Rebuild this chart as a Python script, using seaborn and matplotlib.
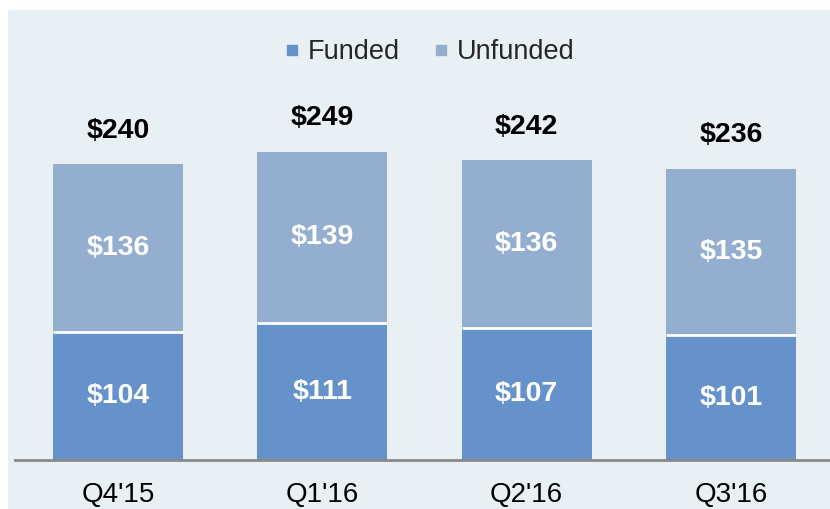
import matplotlib
matplotlib.use("Agg")
import matplotlib.pyplot as plt
import seaborn as sns
import pandas as pd
from matplotlib.lines import Line2D
from matplotlib.patches import Rectangle

quarters = ["Q4'15", "Q1'16", "Q2'16", "Q3'16"]
funded = [104, 111, 107, 101]
unfunded = [136, 139, 136, 135]
totals = [240, 249, 242, 236]

FUNDED_COLOR = '#6592cb'
UNFUNDED_COLOR = '#94aecf'
BG = '#e9f0f3'

sns.set_theme(style='white')
plt.rcParams['font.family'] = ['Liberation Sans', 'DejaVu Sans']

df = pd.DataFrame({'quarter': quarters, 'funded': funded, 'unfunded': unfunded})
df['stack'] = df['funded'] + df['unfunded']

fig = plt.figure(figsize=(8.3, 5.09), dpi=100, facecolor='white')
fig.patches.append(Rectangle((8 / 830, 0), 1, 499 / 509, transform=fig.transFigure,
                             facecolor=BG, edgecolor='none', zorder=-5))
ax = fig.add_axes([15 / 830, 49 / 509, 815 / 830, 450 / 509])
ax.set_facecolor('none')

sns.barplot(data=df, x='quarter', y='stack', color=UNFUNDED_COLOR, width=0.636,
            saturation=1, ax=ax, edgecolor='none')
sns.barplot(data=df, x='quarter', y='funded', color=FUNDED_COLOR, width=0.636,
            saturation=1, ax=ax, edgecolor='none')

# thin white gap between the two stacked segments
for p in ax.patches[len(quarters):]:
    ax.hlines(p.get_height(), p.get_x(), p.get_x() + p.get_width(),
              colors='white', linewidth=2, zorder=3)

for i, row in df.iterrows():
    ax.text(i, row['funded'] / 2, f"${row['funded']}", ha='center', va='center',
            color='white', fontsize=20.5, fontweight='bold', zorder=4)
    ax.text(i, row['funded'] + row['unfunded'] / 2, f"${row['unfunded']}", ha='center',
            va='center', color='white', fontsize=20.5, fontweight='bold', zorder=4)
    ax.annotate(f"${totals[i]}", (i, row['stack']), xytext=(0, 24), textcoords='offset points',
                ha='center', va='center', color='black', fontsize=20.5, fontweight='bold')

ax.set_xlim(-0.504, 3.485)
ax.set_ylim(0, 364.7)
ax.set_xlabel('')
ax.set_ylabel('')
ax.set_yticks([])
sns.despine(ax=ax, left=True)
ax.spines['bottom'].set_color('#888888')
ax.spines['bottom'].set_linewidth(2)
ax.tick_params(axis='x', length=0, pad=16, labelsize=20, colors='black')

handles = [Line2D([], [], marker='s', linestyle='none', markersize=7.5, color=FUNDED_COLOR),
           Line2D([], [], marker='s', linestyle='none', markersize=7.5, color=UNFUNDED_COLOR)]
ax.legend(handles, ['Funded', 'Unfunded'], loc='center', bbox_to_anchor=(0.508, 0.906),
          ncol=2, frameon=False, fontsize=19.5, handlelength=0.6, handletextpad=0.3,
          columnspacing=1.2)

fig.savefig('out.png', dpi=100, facecolor='white')
